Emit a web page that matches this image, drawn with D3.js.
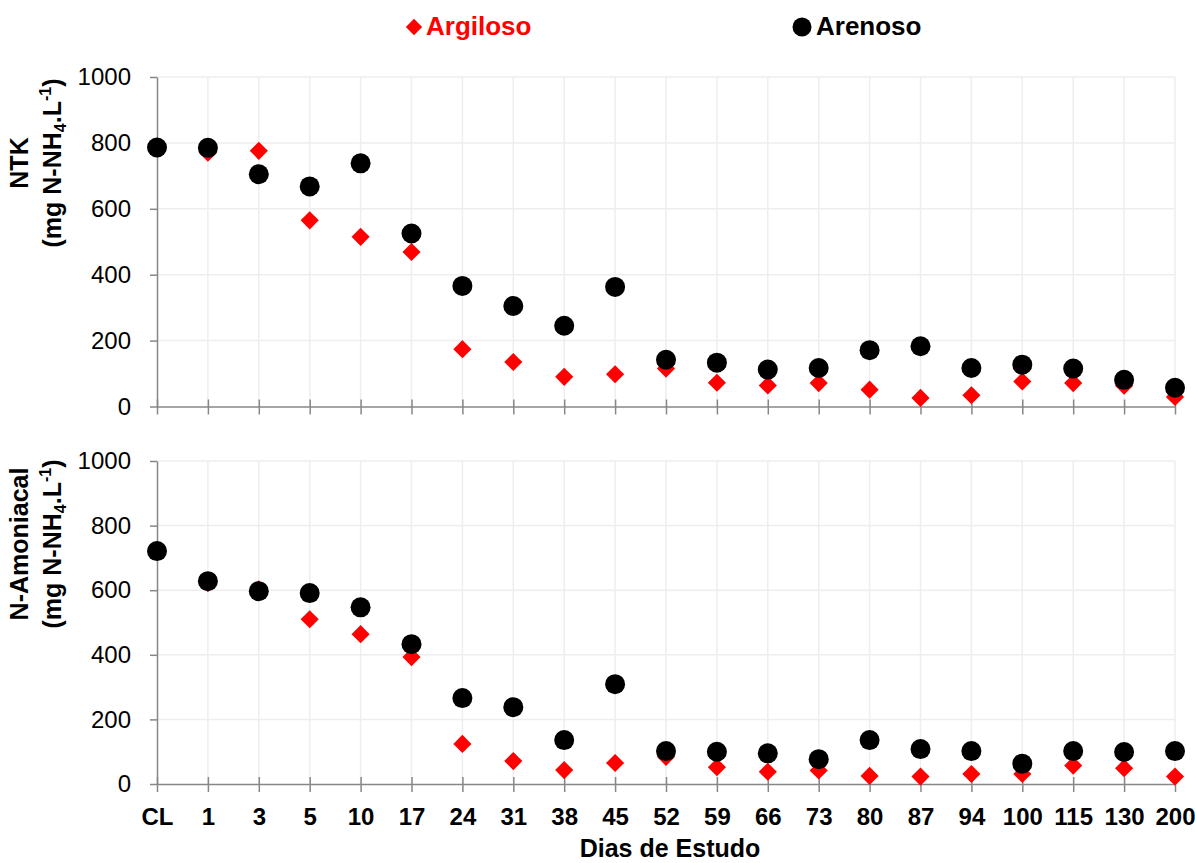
<!DOCTYPE html>
<html>
<head>
<meta charset="utf-8">
<script src="https://cdn.jsdelivr.net/npm/d3@7"></script>
<style>
  html, body { margin: 0; padding: 0; background: #fff; }
  svg { display: block; font-family: "Liberation Sans", Arial, sans-serif; }
</style>
</head>
<body>
<svg id="chart" width="1195" height="863"></svg>
<script>
// Sampling days (CL = raw leachate)
const days = ["CL","1","3","5","10","17","24","31","38","45","52","59","66","73","80","87","94","100","115","130","200"];

// Total Kjeldahl nitrogen (mg N-NH4/L)
const ntkArgiloso = [786,770,776,565,515,469,174,135,90,98,115,72,64,71,51,26,34,76,71,63,29];
const ntkArenoso  = [786,785,705,668,738,525,366,305,245,363,142,133,112,117,171,183,117,127,115,81,57];

// Ammoniacal nitrogen (mg N-NH4/L)
const amonArgiloso = [720,622,603,510,464,393,124,71,43,65,84,52,38,42,25,23,31,31,57,49,23];
const amonArenoso  = [721,628,597,591,547,433,266,238,136,309,102,100,95,77,136,108,102,63,102,99,102];

const yTicks = [0,200,400,600,800,1000];
const seriesNames = ["Argiloso","Arenoso"];
const seriesColors = ["#ff0000","#000000"];

const svg = d3.select("#chart");
const axisColor = "#878787";
const gridColor = "#eeeeee";

const x = d3.scalePoint().domain(days).range([157, 1175]).padding(0);

const panels = [
  { top: 77, bottom: 406.5, title: "NTK", data: [ntkArgiloso, ntkArenoso], labels: false, titleY: 163 },
  { top: 461, bottom: 784, title: "N-Amoniacal", data: [amonArgiloso, amonArenoso], labels: true, titleY: 544 }
];

const diamond = d3.symbol().type(d3.symbolDiamond2);

panels.forEach(p => {
  const y = d3.scaleLinear().domain([0, 1000]).range([p.bottom, p.top]);
  const g = svg.append("g");

  // gridlines
  g.append("g").selectAll("line.h").data(yTicks.filter(v => v > 0)).join("line")
    .attr("x1", x.range()[0]).attr("x2", x.range()[1])
    .attr("y1", d => y(d)).attr("y2", d => y(d))
    .attr("stroke", gridColor).attr("stroke-width", 1.5);
  g.append("g").selectAll("line.v").data(days.slice(1)).join("line")
    .attr("x1", d => x(d)).attr("x2", d => x(d))
    .attr("y1", y(0)).attr("y2", y(1000))
    .attr("stroke", gridColor).attr("stroke-width", 1.5);

  // y axis
  const ya = g.append("g").attr("transform", `translate(${x.range()[0]},0)`)
    .call(d3.axisLeft(y).tickValues(yTicks).tickFormat(d3.format("d"))
      .tickSize(7).tickSizeOuter(0).tickPadding(19));
  ya.select(".domain").attr("stroke", axisColor).attr("stroke-width", 1.5);
  ya.selectAll(".tick line").attr("stroke", axisColor).attr("stroke-width", 1.5);
  ya.selectAll(".tick text").attr("font-size", 24).attr("fill", "#000")
    .attr("font-family", "'Liberation Sans', Arial, sans-serif");

  // x axis
  const xa = g.append("g").attr("transform", `translate(0,${y(0)})`)
    .call(d3.axisBottom(x).tickSize(8).tickSizeOuter(0).tickPadding(0)
      .tickFormat(p.labels ? (d => d) : () => ""));
  xa.select(".domain").attr("stroke", axisColor).attr("stroke-width", 1.5);
  xa.selectAll(".tick line").attr("y1", -7).attr("y2", 8)
    .attr("stroke", axisColor).attr("stroke-width", 1.5);
  xa.selectAll(".tick text").attr("font-size", 24).attr("font-weight", "bold").attr("fill", "#000")
    .attr("font-family", "'Liberation Sans', Arial, sans-serif")
    .attr("y", 41).attr("dy", 0);

  // markers: clay first, sand on top
  p.data.forEach((vals, si) => {
    const mg = g.append("g");
    if (si === 0) {
      mg.selectAll("path").data(vals).join("path")
        .attr("d", diamond.size(210)())
        .attr("transform", (d, i) => `translate(${x(days[i])},${y(d)})`)
        .attr("fill", seriesColors[0]);
    } else {
      mg.selectAll("circle").data(vals).join("circle")
        .attr("cx", (d, i) => x(days[i])).attr("cy", d => y(d)).attr("r", 10)
        .attr("fill", seriesColors[1]);
    }
  });

  // y axis title (two lines, rotated)
  svg.append("text")
    .attr("transform", `translate(28,${p.titleY}) rotate(-90)`)
    .attr("text-anchor", "middle").attr("font-size", 25).attr("font-weight", "bold")
    .text(p.title);
  const t2 = svg.append("text")
    .attr("transform", `translate(61,${p.titleY}) rotate(-90)`)
    .attr("text-anchor", "middle").attr("font-size", 25).attr("font-weight", "bold");
  t2.append("tspan").text("(mg N-NH");
  t2.append("tspan").attr("font-size", 16).attr("dy", 5).text("4");
  t2.append("tspan").attr("dy", -5).text(".L");
  t2.append("tspan").attr("font-size", 16).attr("dy", -10).text("-1");
  t2.append("tspan").attr("dy", 10).text(")");
});

// x axis title
svg.append("text").attr("x", 670).attr("y", 857).attr("text-anchor", "middle")
  .attr("font-size", 25).attr("font-weight", "bold").text("Dias de Estudo");

// legend
const leg = svg.append("g");
leg.append("path").attr("d", diamond.size(170)()).attr("transform", "translate(414,27)").attr("fill", seriesColors[0]);
leg.append("text").attr("x", 426).attr("y", 35).attr("font-size", 26).attr("font-weight", "bold")
  .attr("fill", seriesColors[0]).text(seriesNames[0]);
leg.append("circle").attr("cx", 802).attr("cy", 27).attr("r", 9.5).attr("fill", seriesColors[1]);
leg.append("text").attr("x", 816).attr("y", 35).attr("font-size", 26).attr("font-weight", "bold")
  .attr("fill", seriesColors[1]).text(seriesNames[1]);
</script>
</body>
</html>
